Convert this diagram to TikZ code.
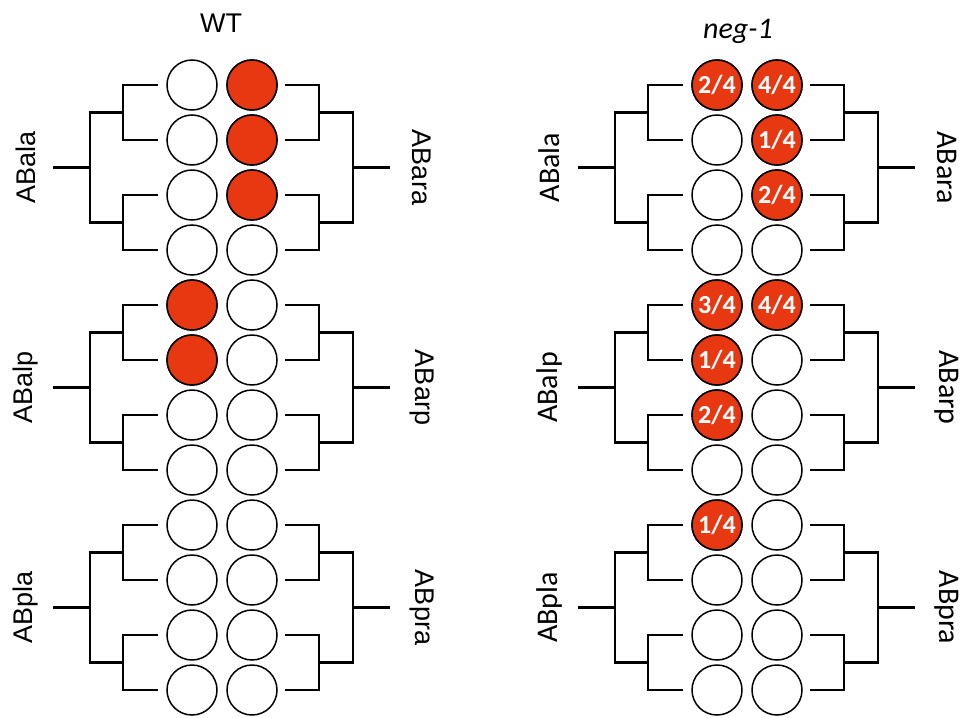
\documentclass[tikz,border=0pt]{standalone}
\usepackage{fontspec}
\setmainfont{Liberation Sans}
\newfontfamily\calfont{Carlito}
\definecolor{cellred}{RGB}{232,56,18}
\tikzset{
  cell/.style={circle,draw=black,line width=1.5pt,minimum size=50pt,inner sep=0pt,fill=white},
  hit/.style={cell,fill=cellred,text=white,font=\calfont\bfseries\fontsize{26}{26}\selectfont},
  tree/.style={draw=black,line width=2.2pt,line join=miter},
  wtlbl/.style={font=\fontsize{27}{27}\selectfont},
  neglbl/.style={font=\calfont\fontsize{30}{30}\selectfont},
}
\begin{document}
\begin{tikzpicture}[x=1pt,y=-1pt]
\useasboundingbox[fill=white] (0,0) rectangle (963,717);
% titles
\node[wtlbl,anchor=base] (tWT) at (221,33) {WT};
\node[neglbl,anchor=base] (tneg) at (738,38) {\itshape neg-1};
% circles
\foreach \p/\ox in {0/0,1/525}{
  \foreach \i in {0,...,11}{
    \pgfmathsetmacro{\yy}{85+55*\i}
    \node[cell] (c\p L\i) at (\ox+192,\yy) {};
    \node[cell] (c\p R\i) at (\ox+252,\yy) {};
  }
}
% WT red cells
\foreach \n in {c0R0,c0R1,c0R2,c0L4,c0L5}{
  \node[hit] at (\n) {};
}
% neg-1 red cells
\foreach \n/\t in {c1L0/{2/4},c1R0/{4/4},c1R1/{1/4},c1R2/{2/4},c1L4/{3/4},c1R4/{4/4},c1L5/{1/4},c1L6/{2/4},c1L8/{1/4}}{
  \node[hit] at (\n) {\t};
}
% brackets
\foreach \p/\ox in {0/0,1/525}{
  \foreach \g in {0,1,2}{
    \pgfmathsetmacro{\ya}{85+220*\g}
    \pgfmathsetmacro{\yb}{\ya+55}
    \pgfmathsetmacro{\yc}{\ya+110}
    \pgfmathsetmacro{\yd}{\ya+165}
    \pgfmathsetmacro{\ma}{\ya+27.5}
    \pgfmathsetmacro{\mb}{\ya+137.5}
    \pgfmathsetmacro{\rt}{\ya+82.5}
    % left
    \coordinate (lA\p\g) at (\ox+158,\ya);
    \coordinate (lB\p\g) at (\ox+158,\yb);
    \coordinate (lC\p\g) at (\ox+158,\yc);
    \coordinate (lD\p\g) at (\ox+158,\yd);
    \coordinate (lm1\p\g) at (\ox+123,\ma);
    \coordinate (lm2\p\g) at (\ox+123,\mb);
    \coordinate (lo1\p\g) at (\ox+90,\ma);
    \coordinate (lo2\p\g) at (\ox+90,\mb);
    \coordinate (lr\p\g) at (\ox+90,\rt);
    \coordinate (lrend\p\g) at (\ox+53,\rt);
    \draw[tree] (lA\p\g) -| (lm1\p\g) |- (lB\p\g);
    \draw[tree] (lC\p\g) -| (lm2\p\g) |- (lD\p\g);
    \draw[tree] (lm1\p\g) -- (lo1\p\g) -- (lo2\p\g) -- (lm2\p\g);
    \draw[tree] (lr\p\g) -- (lrend\p\g);
    % right
    \coordinate (rA\p\g) at (\ox+285,\ya);
    \coordinate (rB\p\g) at (\ox+285,\yb);
    \coordinate (rC\p\g) at (\ox+285,\yc);
    \coordinate (rD\p\g) at (\ox+285,\yd);
    \coordinate (rm1\p\g) at (\ox+319,\ma);
    \coordinate (rm2\p\g) at (\ox+319,\mb);
    \coordinate (ro1\p\g) at (\ox+353,\ma);
    \coordinate (ro2\p\g) at (\ox+353,\mb);
    \coordinate (rr\p\g) at (\ox+353,\rt);
    \coordinate (rrend\p\g) at (\ox+390,\rt);
    \draw[tree] (rA\p\g) -| (rm1\p\g) |- (rB\p\g);
    \draw[tree] (rC\p\g) -| (rm2\p\g) |- (rD\p\g);
    \draw[tree] (rm1\p\g) -- (ro1\p\g) -- (ro2\p\g) -- (rm2\p\g);
    \draw[tree] (rr\p\g) -- (rrend\p\g);
  }
}
% labels
\foreach \g/\ln/\rn in {0/ABala/ABara,1/ABalp/ABarp,2/ABpla/ABpra}{
  \pgfmathsetmacro{\rt}{85+220*\g+82.5}
  \node[wtlbl,rotate=90] (wl\g) at (26,\rt) {\ln};
  \node[wtlbl,rotate=-90] (wr\g) at (422,\rt) {\rn};
  \node[neglbl,rotate=90] (nl\g) at (549,\rt) {\ln};
  \node[neglbl,rotate=-90] (nr\g) at (947,\rt) {\rn};
}
\end{tikzpicture}
\end{document}
